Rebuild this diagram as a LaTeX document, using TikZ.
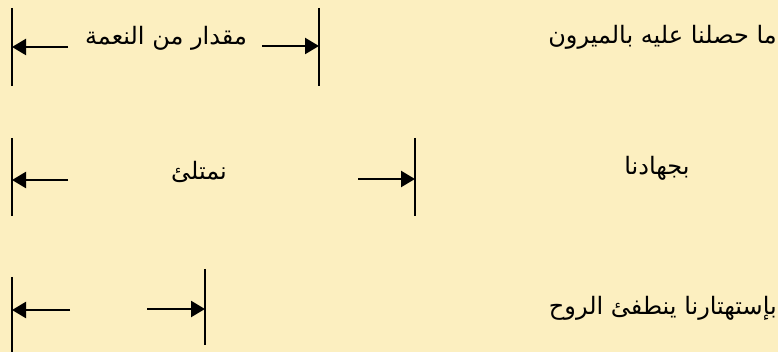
\documentclass[tikz,border=0pt]{standalone}
\usepackage{fontspec}
\newfontfamily\arabicfont[Script=Arabic]{DejaVu Sans}
\TeXXeTstate=1
\usetikzlibrary{arrows.meta}
\definecolor{paper}{RGB}{252,239,192}

\begin{document}
\begin{tikzpicture}[x=1pt,y=-1pt,
    bar/.style={line width=2.2pt},
    dim/.style={line width=2.2pt,-{Triangle[length=14pt,width=16pt]}},
    txt/.style={font=\arabicfont\fontsize{24}{28}\selectfont,inner sep=0pt,anchor=base}]
  \useasboundingbox (0,0) rectangle (778,352);
  \fill[paper] (0,0) rectangle (778,352);
  % row 1
  \coordinate (b1l) at (12,8);   \coordinate (e1l) at (12,86);
  \coordinate (b1r) at (319,8);  \coordinate (e1r) at (319,86);
  \draw[bar] (b1l) -- (e1l);
  \draw[bar] (b1r) -- (e1r);
  \coordinate (s1l) at (68,47);  \coordinate (t1l) at (12,47);
  \coordinate (s1r) at (262,46); \coordinate (t1r) at (319,46);
  \draw[dim] (s1l) -- (t1l);
  \draw[dim] (s1r) -- (t1r);
  \node[txt] (gift) at (166,45) {\beginR مقدار من النعمة\endR};
  \node[txt,anchor=base east] (got) at (777,44) {\beginR ما حصلنا عليه بالميرون\endR};
  % row 2
  \coordinate (b2l) at (12,138);  \coordinate (e2l) at (12,216);
  \coordinate (b2r) at (415,138); \coordinate (e2r) at (415,216);
  \draw[bar] (b2l) -- (e2l);
  \draw[bar] (b2r) -- (e2r);
  \coordinate (s2l) at (68,180);  \coordinate (t2l) at (12,180);
  \coordinate (s2r) at (358,179); \coordinate (t2r) at (415,179);
  \draw[dim] (s2l) -- (t2l);
  \draw[dim] (s2r) -- (t2r);
  \node[txt] (fill) at (199,180) {\beginR نمتلئ\endR};
  \node[txt] (strive) at (657,175) {\beginR بجهادنا\endR};
  % row 3
  \coordinate (b3l) at (12,277);  \coordinate (e3l) at (12,352);
  \coordinate (b3r) at (205,269); \coordinate (e3r) at (205,345);
  \draw[bar] (b3l) -- (e3l);
  \draw[bar] (b3r) -- (e3r);
  \coordinate (s3l) at (70,310);  \coordinate (t3l) at (12,310);
  \coordinate (s3r) at (147,309); \coordinate (t3r) at (205,309);
  \draw[dim] (s3l) -- (t3l);
  \draw[dim] (s3r) -- (t3r);
  \node[txt,anchor=base east] (spirit) at (777,314) {\beginR بإستهتارنا ينطفئ الروح\endR};
\end{tikzpicture}
\end{document}
